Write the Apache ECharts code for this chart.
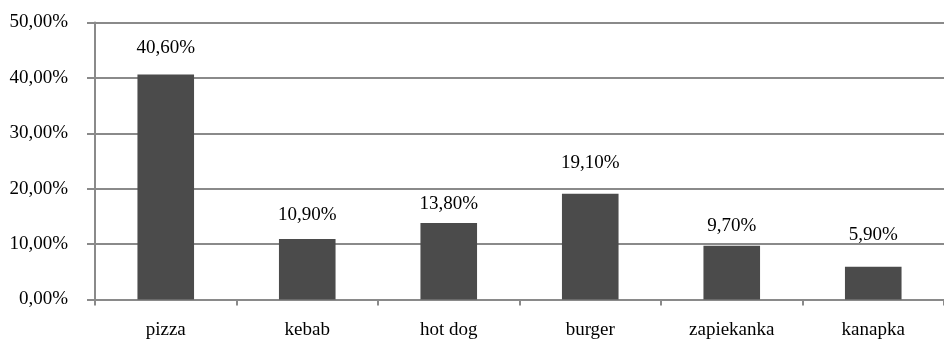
<!DOCTYPE html>
<html>
<head>
<meta charset="utf-8">
<script src="https://cdn.jsdelivr.net/npm/echarts@6/dist/echarts.min.js"></script>
<style>
  html, body { margin: 0; padding: 0; background: #fff; }
  #chart { width: 944px; height: 340px; }
</style>
</head>
<body>
<div id="chart"></div>
<script>
// Share of respondents choosing each fast-food item (percent)
const categories = ['pizza', 'kebab', 'hot dog', 'burger', 'zapiekanka', 'kanapka'];
const shares = [40.6, 10.9, 13.8, 19.1, 9.7, 5.9];

// Y axis range and step (percent)
const yMin = 0;
const yMax = 50;
const yStep = 10;

// Per-bar gap between bar top and its value label (px)
const labelLift = [17, 15, 10, 21, 10, 22];

const fmtPct = v => v.toFixed(2).replace('.', ',') + '%';

const axisGrey = '#8a8a8a';
const textStyle = { fontFamily: '"Liberation Serif", "Times New Roman", serif', fontSize: 19, color: '#000' };

const chart = echarts.init(document.getElementById('chart'), null, { renderer: 'canvas' });

chart.setOption({
  animation: false,
  backgroundColor: '#fff',
  grid: { left: 95, top: 22.5, width: 855, height: 277, containLabel: false },
  xAxis: {
    type: 'category',
    data: categories,
    boundaryGap: true,
    axisLine: { show: true, lineStyle: { color: axisGrey, width: 2 } },
    axisTick: { show: true, length: 6, alignWithLabel: false, lineStyle: { color: axisGrey, width: 2 } },
    axisLabel: Object.assign({ margin: 21 }, textStyle),
    splitLine: { show: false }
  },
  yAxis: {
    type: 'value',
    min: yMin,
    max: yMax,
    interval: yStep,
    axisLine: { show: true, lineStyle: { color: axisGrey, width: 2 } },
    axisTick: { show: true, length: 8, lineStyle: { color: axisGrey, width: 2 } },
    axisLabel: Object.assign({ margin: 27, formatter: v => fmtPct(v) }, textStyle),
    splitLine: { show: true, lineStyle: { color: axisGrey, width: 2 } }
  },
  series: [{
    type: 'bar',
    data: shares.map((v, i) => ({
      value: v,
      label: { distance: labelLift[i] }
    })),
    barCategoryGap: '60%',
    itemStyle: { color: '#4b4b4b' },
    label: Object.assign({
      show: true,
      position: 'top',
      formatter: p => fmtPct(p.value)
    }, textStyle)
  }]
});
</script>
</body>
</html>
